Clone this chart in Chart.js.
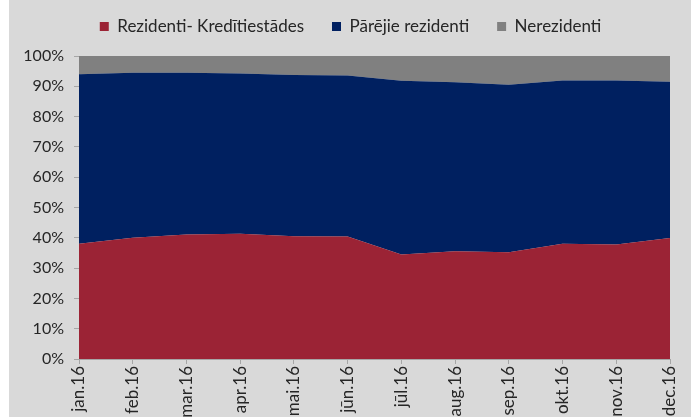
<!DOCTYPE html>
<html>
<head>
<meta charset="utf-8">
<script src="https://cdn.jsdelivr.net/npm/chart.js@4/dist/chart.umd.min.js"></script>
<style>
  html, body { margin: 0; padding: 0; background: #ffffff; }
  #wrap { position: absolute; left: 9px; top: 0; width: 682px; height: 417px; background: #d9d9d9; }
  canvas { display: block; }
</style>
</head>
<body>
<div id="wrap"><canvas id="c" width="682" height="417"></canvas></div>
<script>
const categories = ['jan.16','feb.16','mar.16','apr.16','mai.16','jūn.16','jūl.16','aug.16','sep.16','okt.16','nov.16','dec.16'];
const seriesNames = ['Rezidenti- Kredītiestādes','Pārējie rezidenti','Nerezidenti'];
const rezidentiKredit = [38.0, 40.0, 41.1, 41.3, 40.5, 40.4, 34.5, 35.6, 35.2, 38.0, 37.8, 39.9];
const parejieRezidenti = [56.0, 54.5, 53.4, 52.9, 53.2, 53.2, 57.3, 55.7, 55.3, 53.9, 54.1, 51.6];
const nerezidenti = [6.0, 5.5, 5.5, 5.8, 6.3, 6.4, 8.2, 8.7, 9.5, 8.1, 8.1, 8.5];
const yTicks = [0,10,20,30,40,50,60,70,80,90,100];

const colors = ['#9b2335', '#002060', '#808080'];
const axisColor = '#a6a6a6';
const textColor = '#262626';

const datasets = [rezidentiKredit, parejieRezidenti, nerezidenti].map((d, i) => ({
  label: seriesNames[i],
  data: d,
  backgroundColor: colors[i],
  borderColor: colors[i],
  borderWidth: 0,
  pointRadius: 0,
  tension: 0,
  fill: i === 0 ? 'origin' : '-1'
}));

const legendFitPlugin = {
  id: 'legendFit',
  afterInit(chart) {
    const lg = chart.legend;
    if (!lg) return;
    const orig = lg.fit.bind(lg);
    lg.fit = function () { orig(); this.height += 11; };
  },
  afterLayout(chart) {
    const lg = chart.legend;
    if (!lg) return;
    lg.left += 11;
    lg.right += 11;
  }
};

new Chart(document.getElementById('c'), {
  type: 'line',
  data: { labels: categories, datasets },
  plugins: [legendFitPlugin],
  options: {
    responsive: false,
    animation: false,
    layout: { padding: { left: 0, right: 21, top: -10, bottom: 0 } },
    plugins: {
      tooltip: { enabled: false },
      legend: {
        position: 'top',
        labels: {
          boxWidth: 9, boxHeight: 9,
          color: textColor,
          padding: 28,
          font: { family: 'Lato', size: 17 }
        }
      }
    },
    scales: {
      x: {
        offset: false,
        grid: { offset: false, drawOnChartArea: false, drawTicks: true, tickLength: 5, color: axisColor },
        border: { display: true, color: axisColor },
        ticks: {
          color: textColor, minRotation: 90, maxRotation: 90, autoSkip: false,
          padding: 2,
          font: { family: 'Lato', size: 17 }
        },
        afterFit: (s) => { s.height = 58; s.paddingLeft = 0; s.paddingRight = 0; }
      },
      y: {
        stacked: true,
        min: 0, max: 100,
        afterBuildTicks: (s) => { s.ticks = yTicks.map(v => ({ value: v })); },
        grid: { drawOnChartArea: false, drawTicks: true, tickLength: 5, color: axisColor },
        border: { display: true, color: axisColor },
        ticks: {
          color: textColor, padding: 10,
          font: { family: 'Lato', size: 16 },
          callback: (v) => v + '%'
        },
        afterFit: (s) => { s.width = 70; }
      }
    }
  }
});
</script>
</body>
</html>
